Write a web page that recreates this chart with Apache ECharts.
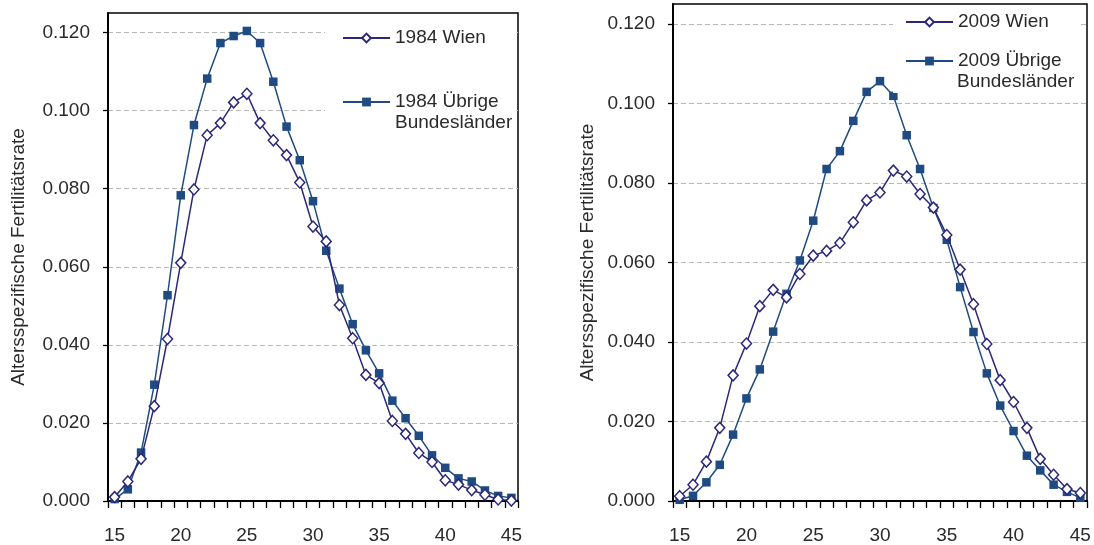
<!DOCTYPE html>
<html>
<head>
<meta charset="utf-8">
<script src="https://cdn.jsdelivr.net/npm/echarts@6/dist/echarts.min.js"></script>
<style>
html,body{margin:0;padding:0;background:#fff;}
#c{width:1094px;height:545px;}
</style>
</head>
<body>
<div id="c"></div>
<script>
const ages = ['15','16','17','18','19','20','21','22','23','24','25','26','27','28','29','30','31','32','33','34','35','36','37','38','39','40','41','42','43','44','45'];
const yTicks = [0, 0.02, 0.04, 0.06, 0.08, 0.10, 0.12];

const wien1984 = [0.0010,0.0050,0.0108,0.0243,0.0415,0.0610,0.0798,0.0937,0.0968,0.1021,0.1043,0.0968,0.0924,0.0886,0.0816,0.0703,0.0665,0.0502,0.0417,0.0323,0.0302,0.0205,0.0172,0.0123,0.0100,0.0053,0.0042,0.0028,0.0016,0.0004,0.0001];
const uebrige1984 = [0.0005,0.0030,0.0124,0.0298,0.0527,0.0783,0.0963,0.1082,0.1173,0.1191,0.1204,0.1173,0.1074,0.0959,0.0873,0.0768,0.0641,0.0544,0.0453,0.0386,0.0327,0.0257,0.0212,0.0167,0.0117,0.0085,0.0058,0.0050,0.0027,0.0013,0.0008];
const wien2009 = [0.0012,0.0041,0.0099,0.0184,0.0316,0.0396,0.0490,0.0531,0.0512,0.0571,0.0617,0.0629,0.0649,0.0701,0.0756,0.0776,0.0831,0.0816,0.0772,0.0738,0.0669,0.0582,0.0495,0.0395,0.0304,0.0249,0.0184,0.0106,0.0066,0.0030,0.0020];
const uebrige2009 = [0.0003,0.0013,0.0047,0.0091,0.0167,0.0258,0.0331,0.0426,0.0521,0.0605,0.0705,0.0835,0.0880,0.0956,0.1029,0.1056,0.1019,0.0920,0.0835,0.0737,0.0657,0.0538,0.0425,0.0321,0.0240,0.0176,0.0114,0.0077,0.0041,0.0023,0.0008];

const names = ['1984 Wien','1984 Übrige Bundesländer','2009 Wien','2009 Übrige Bundesländer'];
const yName = 'Altersspezifische Fertilitätsrate';

const FONT = '"Liberation Sans", Arial, sans-serif';
const FS = 19;
const TXT = '#2a2a2a';
const C_W = '#2B2878';
const C_U = '#1F4B82';

function xAxis(gi){
  return {
    type:'category', gridIndex:gi, data:ages, boundaryGap:true,
    axisLine:{show:true, lineStyle:{color:'#000', width:2}},
    axisTick:{show:true, interval:0, length:7, inside:false, lineStyle:{color:'#000', width:1.3}},
    axisLabel:{interval:4, margin:25, color:TXT, fontSize:FS, fontFamily:FONT},
    splitLine:{show:false}
  };
}
function yAxis(gi, gap){
  return {
    type:'value', gridIndex:gi, min:0, max:0.125, interval:0.02,
    name:yName, nameLocation:'middle', nameGap:gap, nameRotate:90,
    nameTextStyle:{color:TXT, fontSize:FS, fontFamily:FONT},
    axisLine:{show:true, lineStyle:{color:'#000', width:2}},
    axisTick:{show:true, length:5, inside:false, customValues:yTicks, lineStyle:{color:'#000', width:1.3}},
    axisLabel:{margin:18, color:TXT, fontSize:FS, fontFamily:FONT, customValues:yTicks,
      formatter:v => v.toFixed(3)},
    splitLine:{show:true, lineStyle:{color:'#B8B8B8', width:1, type:[5,3]}}
  };
}
function wienSeries(name, xi, data){
  return {
    name:name, type:'line', xAxisIndex:xi, yAxisIndex:xi, data:data,
    symbol:'diamond', symbolSize:[10,11], showAllSymbol:true,
    lineStyle:{color:C_W, width:1.5},
    itemStyle:{color:'#ffffff', borderColor:C_W, borderWidth:1.5},
    emphasis:{disabled:true}, animation:false, z:3
  };
}
function uebSeries(name, xi, data){
  return {
    name:name, type:'line', xAxisIndex:xi, yAxisIndex:xi, data:data,
    symbol:'rect', symbolSize:8.5, showAllSymbol:true,
    lineStyle:{color:C_U, width:1.5},
    itemStyle:{color:C_U, borderColor:C_U, borderWidth:0},
    emphasis:{disabled:true}, animation:false, z:2
  };
}
function legend(data, left, top, pad, gap){
  return {
    data:data, orient:'vertical', left:left, top:top, padding:pad, itemGap:gap,
    itemWidth:47, itemHeight:11, backgroundColor:'#ffffff',
    textStyle:{color:TXT, fontSize:FS, fontFamily:FONT, lineHeight:20},
    formatter: n => n.replace(' Bundesländer',''),
    selectedMode:false, z:5
  };
}

const chart = echarts.init(document.getElementById('c'), null, {renderer:'canvas'});
chart.setOption({
  animation:false,
  backgroundColor:'#ffffff',
  grid:[
    {left:108, top:13, width:410, bottom:44, show:true, borderColor:'#000', borderWidth:1.5, backgroundColor:'transparent'},
    {left:673, top:4, width:414, bottom:44, show:true, borderColor:'#000', borderWidth:1.5, backgroundColor:'transparent'}
  ],
  xAxis:[xAxis(0), xAxis(1)],
  yAxis:[yAxis(0, 80), yAxis(1, 76)],
  legend:[
    legend([names[0], names[1]], 325, 20, [8,18,23,17], 44),
    legend([names[2], names[3]], 893, 5, [7,17,22,12], 19)
  ],
  graphic:[
    {type:'text', x:395, y:123, z:100, zlevel:0,
      style:{text:'Bundesländer', fill:TXT, font:FS + 'px ' + FONT, verticalAlign:'middle'}},
    {type:'text', x:957, y:82, z:100, zlevel:0,
      style:{text:'Bundesländer', fill:TXT, font:FS + 'px ' + FONT, verticalAlign:'middle'}}
  ],
  series:[
    uebSeries(names[1], 0, uebrige1984),
    wienSeries(names[0], 0, wien1984),
    uebSeries(names[3], 1, uebrige2009),
    wienSeries(names[2], 1, wien2009)
  ]
});
</script>
</body>
</html>
